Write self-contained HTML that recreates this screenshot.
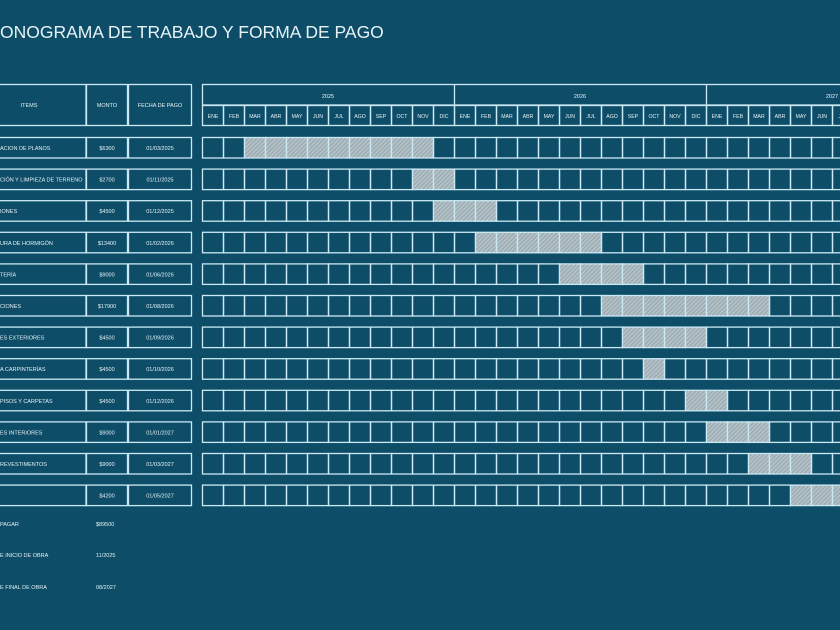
<!DOCTYPE html>
<html><head><meta charset="utf-8"><style>
html,body{margin:0;padding:0;background:#0d4d68;}
svg{display:block;}
text{font-family:"Liberation Sans",sans-serif;fill:#e6f2f6;}
</style></head><body>
<svg width="840" height="630" viewBox="0 0 840 630" xmlns="http://www.w3.org/2000/svg">
<defs>
<pattern id="h" width="3" height="3" patternUnits="userSpaceOnUse" patternTransform="rotate(45)">
<rect width="3" height="3" fill="#b3c1c6"/><rect width="1" height="3" fill="#94a6ad"/>
</pattern>
</defs>
<rect width="840" height="630" fill="#0d4d68"/>
<text x="0" y="38" font-size="17.5">ONOGRAMA DE TRABAJO Y FORMA DE PAGO</text>
<g id="content"></g>
</svg>
<script>
const NS="http://www.w3.org/2000/svg",g=document.getElementById('content');
function el(t,a,txt){const e=document.createElementNS(NS,t);for(const k in a)e.setAttribute(k,a[k]);if(txt!==undefined)e.textContent=txt;g.appendChild(e);return e;}
const L="#cbe9f4",X0=202,W=21;
// header left
el('rect',{x:-5,y:84.5,width:91,height:41,fill:'none',stroke:L,'stroke-width':1.3});
el('rect',{x:86.5,y:84.5,width:41,height:41,fill:'none',stroke:L,'stroke-width':1.3});
el('rect',{x:128.5,y:84.5,width:63,height:41,fill:'none',stroke:L,'stroke-width':1.3});
el('text',{x:29,y:107,'font-size':5.5,'text-anchor':'middle'},'ITEMS');
el('text',{x:107,y:107,'font-size':5.5,'text-anchor':'middle'},'MONTO');
el('text',{x:160,y:107,'font-size':5.5,'text-anchor':'middle'},'FECHA DE PAGO');
// year header
el('rect',{x:202.5,y:84.5,width:700,height:20.5,fill:'none',stroke:L,'stroke-width':1.3});
[['2025',0],['2026',1],['2027',2]].forEach(([y,i])=>{
 el('text',{x:X0+i*252+126,y:98,'font-size':5.5,'text-anchor':'middle'},y);
 if(i>0)el('line',{x1:X0+i*252+.5,y1:84.5,x2:X0+i*252+.5,y2:105,stroke:L,'stroke-width':1.3});
});
const M=['ENE','FEB','MAR','ABR','MAY','JUN','JUL','AGO','SEP','OCT','NOV','DIC'];
for(let i=0;i<31;i++){
 const x=X0+i*W;
 el('rect',{x:x+.5,y:105.5,width:W,height:20,fill:'none',stroke:L,'stroke-width':1.3});
 el('text',{x:x+W/2+.5,y:118,'font-size':5.2,'text-anchor':'middle'},M[i%12]);
}
const rows=[
['ACION DE PLANOS','$6300','01/03/2025',2,10],
['CIÓN Y LIMPIEZA DE TERRENO','$2700','01/11/2025',10,11],
['IONES','$4500','01/12/2025',11,13],
['URA DE HORMIGÓN','$13400','01/02/2026',13,18],
['TERÍA','$9000','01/06/2026',17,20],
['CIONES','$17900','01/08/2026',19,26],
['ES EXTERIORES','$4500','01/09/2026',20,23],
['A CARPINTERÍAS','$4500','01/10/2026',21,21],
['PISOS Y CARPETAS','$4500','01/12/2026',23,24],
['ES INTERIORES','$9000','01/01/2027',24,26],
['REVESTIMENTOS','$9000','01/03/2027',26,28],
['','$4200','01/05/2027',28,30]];
rows.forEach((r,k)=>{
 const y=137.5+k*31.6,h=20.5;
 el('rect',{x:-5,y:y,width:91,height:h,fill:'none',stroke:L,'stroke-width':1.3});
 el('rect',{x:86.5,y:y,width:41,height:h,fill:'none',stroke:L,'stroke-width':1.3});
 el('rect',{x:128.5,y:y,width:63,height:h,fill:'none',stroke:L,'stroke-width':1.3});
 el('text',{x:0,y:y+12.5,'font-size':5.5},r[0]);
 el('text',{x:107,y:y+12.5,'font-size':5.5,'text-anchor':'middle'},r[1]);
 el('text',{x:160,y:y+12.5,'font-size':5.5,'text-anchor':'middle'},r[2]);
 for(let i=0;i<31;i++){
  const x=X0+i*W, f=(i>=r[3]&&i<=r[4]);
  el('rect',{x:x+.5,y:y,width:W,height:h,fill:f?'url(#h)':'none',stroke:L,'stroke-width':1.3});
 }
});
[['PAGAR','$89500',526],['E INICIO DE OBRA','11/2025',557],['E FINAL DE OBRA','08/2027',589]].forEach(r=>{
 el('text',{x:0,y:r[2],'font-size':5.5},r[0]);
 el('text',{x:96,y:r[2],'font-size':5.5},r[1]);
});
</script>
</body></html>
